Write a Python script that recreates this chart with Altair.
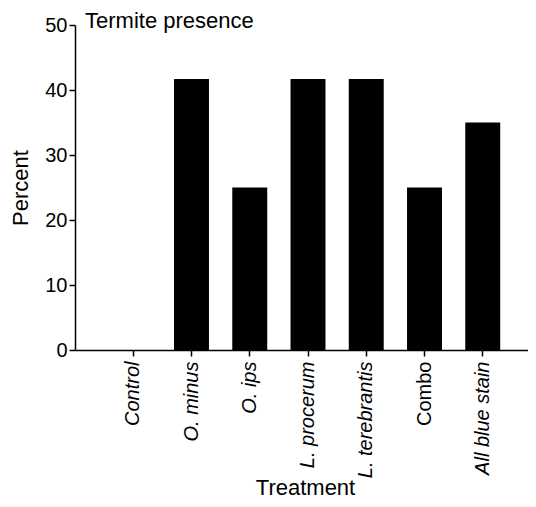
import altair as alt
import pandas as pd

treatments = ["Control", "O. minus", "O. ips", "L. procerum", "L. terebrantis", "Combo", "All blue stain"]
percent = [0, 41.7, 25, 41.7, 41.7, 25, 35]

df = pd.DataFrame({"Treatment": treatments, "Percent": percent})

FONT = "Liberation Sans"

chart = alt.Chart(df).mark_bar(color="black").encode(
    x=alt.X("Treatment:N", sort=treatments,
            scale=alt.Scale(paddingInner=0.4, paddingOuter=0.7, range=[0, 466]),
            axis=alt.Axis(title="Treatment", labelAngle=-90, labelFontSize=20,
                          labelFontStyle=alt.ConditionalAxisString(
                              condition={"test": "datum.value == 'Combo'", "value": "normal"},
                              value="italic"),
                          labelPadding=5, tickSize=6, titleFontSize=22,
                          titleFontWeight="normal", titleX=230, titleY=144,
                          titleBaseline="alphabetic",
                          domainColor="black", tickColor="black", domainWidth=1.5,
                          tickWidth=1.5, labelColor="black", titleColor="black")),
    y=alt.Y("Percent:Q", scale=alt.Scale(domain=[0, 50], nice=False),
            axis=alt.Axis(title="Percent", values=[0, 10, 20, 30, 40, 50],
                          labelFontSize=20, tickSize=6, labelPadding=2,
                          titleFontSize=22, titleFontWeight="normal", titlePadding=12,
                          domainColor="black", tickColor="black", domainWidth=1.5,
                          tickWidth=1.5, grid=False, labelColor="black",
                          titleColor="black")),
).properties(
    width=453,
    height=325,
    autosize=alt.AutoSizeParams(type="none"),
    padding={"left": 67, "top": 17, "right": 0, "bottom": 149},
    title=alt.TitleParams("Termite presence", anchor="start", frame="group",
                          fontSize=22, fontWeight="normal", color="black",
                          dx=10, offset=0, dy=35, baseline="alphabetic"),
).configure(font=FONT).configure_view(stroke=None)

chart.save("out.html", embed_options={"renderer": "svg", "actions": False})
